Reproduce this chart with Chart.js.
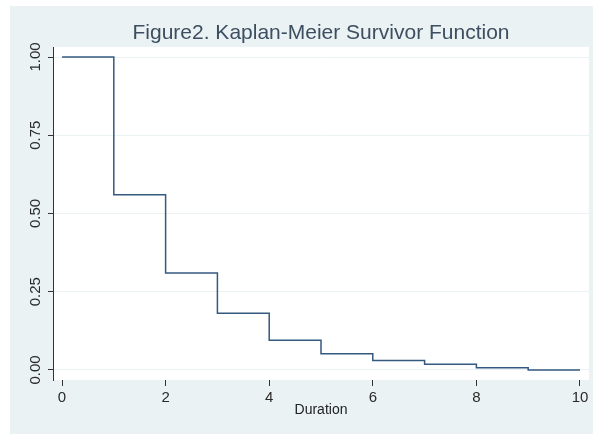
<!DOCTYPE html>
<html>
<head>
<meta charset="utf-8">
<script src="https://cdn.jsdelivr.net/npm/chart.js@4"></script>
<style>
  html, body { margin: 0; padding: 0; background: #fff; }
  #panel {
    position: absolute; left: 10px; top: 6px;
    width: 583px; height: 428px;
    background: #eaf2f3;
  }
</style>
</head>
<body>
<div id="panel"><canvas id="kmChart" width="583" height="428"></canvas></div>
<script>
/* Kaplan-Meier survivor estimate */
const durations = [0, 1, 2, 3, 4, 5, 6, 7, 8, 9, 10];
const survival  = [1.00, 0.56, 0.31, 0.181, 0.095, 0.052, 0.030, 0.018, 0.007, 0.000, 0.000];

const xTicks = [0, 2, 4, 6, 8, 10];
const yTicks = [0, 0.25, 0.5, 0.75, 1];

const TITLE   = 'Figure2. Kaplan-Meier Survivor Function';
const X_TITLE = 'Duration';

// white plot region on the bluish panel
const plotBg = {
    id: 'plotBg',
    beforeDraw(chart) {
        const a = chart.chartArea, ctx = chart.ctx;
        ctx.save();
        ctx.fillStyle = '#ffffff';
        ctx.fillRect(a.left, a.top, a.right - a.left, a.bottom - a.top);
        ctx.restore();
    }
};

const points = durations.map((d, i) => ({ x: d, y: survival[i] }));

new Chart(document.getElementById('kmChart'), {
    type: 'line',
    data: {
        datasets: [{
            data: points,
            stepped: 'before',
            borderColor: '#34597f',
            borderWidth: 1.5,
            pointRadius: 0,
            fill: false
        }]
    },
    options: {
        responsive: false,
        animation: false,
        layout: { padding: { left: 0, right: 4, top: 0, bottom: 0 } },
        plugins: {
            legend: { display: false },
            tooltip: { enabled: false },
            title: {
                display: true,
                text: TITLE,
                fullSize: false,
                color: '#3d4e60',
                font: { family: "'Liberation Sans', Arial, sans-serif", size: 21, weight: 'normal' },
                padding: { top: 14.4, bottom: 1.4 }
            }
        },
        scales: {
            x: {
                type: 'linear',
                min: -0.174,
                max: 10.174,
                afterBuildTicks: s => { s.ticks = xTicks.map(v => ({ value: v })); },
                afterFit: s => { s.height = 54; },
                border: { display: false },
                grid: { drawOnChartArea: false, drawTicks: true, tickLength: 6, tickColor: '#333' },
                ticks: {
                    color: '#2a2a2a',
                    padding: 3,
                    maxRotation: 0,
                    font: { family: "'Liberation Sans', Arial, sans-serif", size: 15 }
                },
                title: {
                    display: true,
                    text: X_TITLE,
                    color: '#222',
                    font: { family: "'Liberation Sans', Arial, sans-serif", size: 14 },
                    padding: { top: 0, bottom: 15 }
                }
            },
            y: {
                min: -0.032,
                max: 1.032,
                afterBuildTicks: s => { s.ticks = yTicks.map(v => ({ value: v })); },
                afterFit: s => { s.width = 43; },
                border: { display: true, color: '#333', width: 1 },
                grid: { color: '#eaf2f3', tickColor: '#333', tickLength: 5, lineWidth: 1 },
                ticks: {
                    color: '#2a2a2a',
                    minRotation: 90,
                    maxRotation: 90,
                    crossAlign: 'center',
                    padding: -2,
                    font: { family: "'Liberation Sans', Arial, sans-serif", size: 15 },
                    callback: v => v.toFixed(2)
                }
            }
        }
    },
    plugins: [plotBg]
});
</script>
</body>
</html>
